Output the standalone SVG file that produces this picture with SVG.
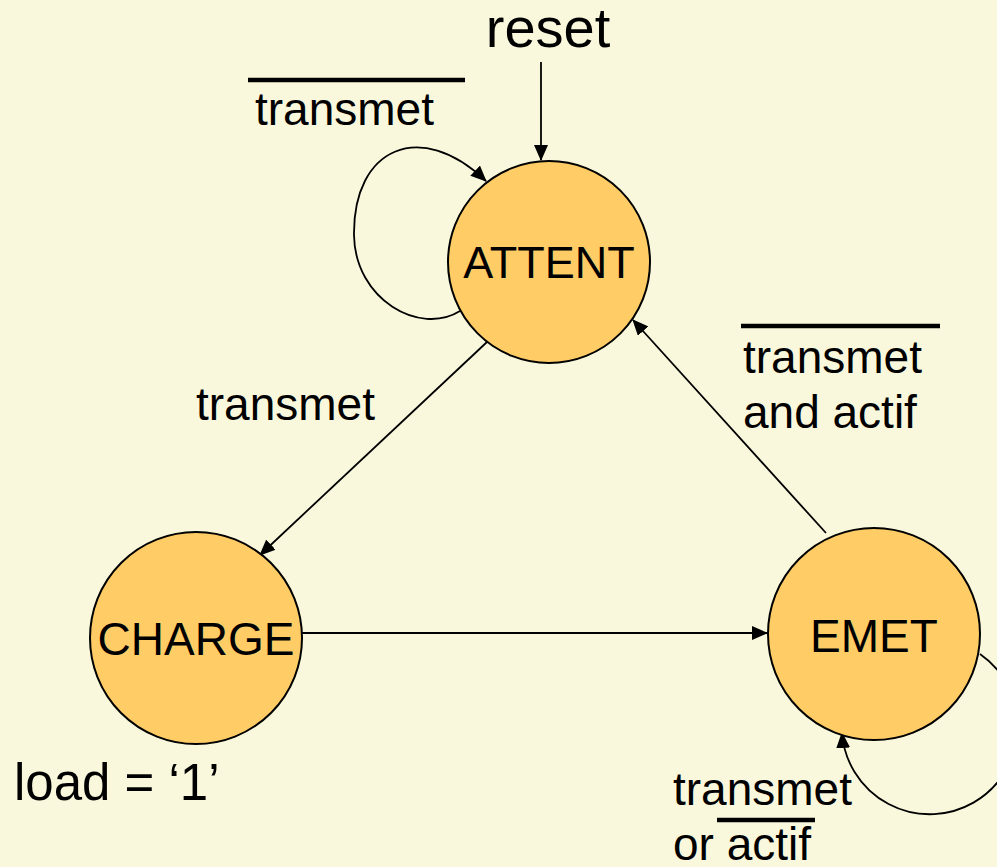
<svg xmlns="http://www.w3.org/2000/svg" width="997" height="867" viewBox="0 0 997 867">
<style>
.state{fill:#FFCC66;stroke:#000;stroke-width:2}
.lbl{font-family:"Liberation Sans",Arial,sans-serif;font-size:46px;fill:#000}
.edge{fill:none;stroke:#000;stroke-width:1.8}
.bar{stroke:#000;stroke-width:4.5}
</style>
<defs>
<marker id="arr" markerUnits="userSpaceOnUse" markerWidth="16" markerHeight="14" refX="15" refY="7" orient="auto">
<path d="M0,0 L16,7 L0,14 Z" fill="#000"/>
</marker>
</defs>
<rect width="997" height="867" fill="#FAF8DC"/>
<g id="connectors">
<line class="edge" x1="541" y1="62" x2="541" y2="160" marker-end="url(#arr)"/>
<path class="edge" d="M460,311 C420,336 355,300 354,235 C353,148 420,118 486,181" marker-end="url(#arr)"/>
<line class="edge" x1="487" y1="342" x2="260" y2="555" marker-end="url(#arr)"/>
<line class="edge" x1="297" y1="633" x2="767" y2="633" marker-end="url(#arr)"/>
<line class="edge" x1="826" y1="533" x2="633" y2="320" marker-end="url(#arr)"/>
<path class="edge" d="M980,654 A88,88 0 1 1 842,733" marker-end="url(#arr)"/>
</g>
<g id="attent">
<circle class="state" cx="549" cy="262" r="101"/>
<text class="lbl" x="549" y="278" text-anchor="middle" style="font-size:45px">ATTENT</text>
</g>
<g id="charge">
<circle class="state" cx="196" cy="638" r="106"/>
<text class="lbl" x="196" y="655" text-anchor="middle">CHARGE</text>
</g>
<g id="emet">
<circle class="state" cx="874" cy="634" r="106"/>
<text class="lbl" x="874" y="652" text-anchor="middle">EMET</text>
</g>
<g id="labels">
<text class="lbl" x="548" y="47" text-anchor="middle" style="font-size:56px">reset</text>
<line class="bar" x1="248" y1="80" x2="465" y2="80"/>
<text class="lbl" x="255" y="125">transmet</text>
<text class="lbl" x="196" y="420">transmet</text>
<line class="bar" x1="741" y1="326" x2="940" y2="326"/>
<text class="lbl" x="743" y="373">transmet</text>
<text class="lbl" x="743" y="428">and actif</text>
<text class="lbl" x="14" y="800" style="font-size:51px">load = ‘1’</text>
<text class="lbl" x="673" y="805">transmet</text>
<line class="bar" x1="717" y1="820" x2="815" y2="820"/>
<text class="lbl" x="673" y="860">or actif</text>
</g>
</svg>
